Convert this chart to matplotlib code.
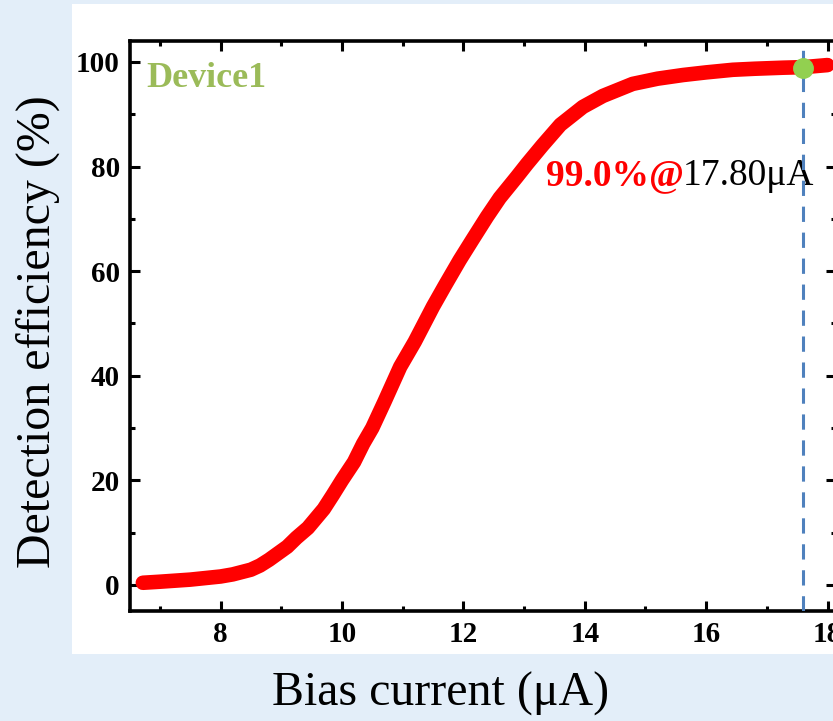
import matplotlib
matplotlib.use("Agg")
import matplotlib.pyplot as plt
from matplotlib.patches import Rectangle

plt.rcParams['font.family'] = ['Liberation Serif', 'DejaVu Serif']

# curva de eficiencia
corriente = [6.72, 7.0, 7.5, 8.0, 8.2, 8.5, 8.65, 8.8, 9.1, 9.25, 9.44, 9.7,
             9.85, 10.0, 10.2, 10.35, 10.5, 10.7, 10.96, 11.2, 11.5, 11.7,
             11.94, 12.15, 12.39, 12.6, 12.88, 13.05, 13.3, 13.6, 13.97, 14.3,
             14.79, 15.2, 15.62, 16.0, 16.44, 16.8, 17.27, 17.6, 18.0]
eficiencia = [0.4, 0.6, 1.0, 1.6, 2.0, 2.9, 3.7, 4.8, 7.3, 9.0, 10.9, 14.5,
              17.2, 20.0, 23.5, 27.0, 30.0, 35.0, 41.7, 46.5, 53.2, 57.3,
              62.1, 66.0, 70.4, 74.0, 78.0, 80.5, 84.0, 88.0, 91.4, 93.5,
              95.8, 96.8, 97.5, 98.0, 98.5, 98.7, 98.9, 99.0, 99.4]

punto_x = [17.6]
punto_y = [98.9]

xticks = [8, 10, 12, 14, 16, 18]
yticks = [0, 20, 40, 60, 80, 100]

fig = plt.figure(figsize=(8.33, 7.21), dpi=100, facecolor='#e3eef9')
# panel blanco detras del grafico
fig.patches.append(Rectangle((72 / 833, 1 - 654 / 721), 1 - 72 / 833, (654 - 4) / 721,
                             transform=fig.transFigure, facecolor='white',
                             edgecolor='none', zorder=-5))

ax = fig.add_axes([129.5 / 833, 1 - 611 / 721, (836 - 129.5) / 833, (611 - 40.5) / 721])
ax.set_zorder(2)
ax.set_facecolor('white')

ax.plot(corriente, eficiencia, color='red', lw=10.5, solid_capstyle='round',
        solid_joinstyle='round', zorder=3)
ax.axvline(punto_x[0], color='#4f81bd', lw=2.2, dashes=(5, 3.5), zorder=4)
ax.plot(punto_x, punto_y, 'o', color='#92d050', ms=14, zorder=5)

ax.set_xlim(6.5, 18.14)
ax.set_ylim(-5, 104.1)
ax.set_xticks(xticks)
ax.set_yticks(yticks)
ax.set_xticks([7, 9, 11, 13, 15, 17], minor=True)
ax.set_yticks([10, 30, 50, 70, 90], minor=True)

ax.tick_params(which='major', direction='in', length=7, width=2.2,
               top=True, right=True, labelsize=21, pad=7)
ax.tick_params(which='minor', direction='in', length=3.5, width=2.2,
               top=True, right=True)
for lab in ax.get_xticklabels() + ax.get_yticklabels():
    lab.set_fontweight('bold')
for s in ax.spines.values():
    s.set_linewidth(2.6)

ax.text(6.77, 95.2, 'Device1', color='#9bbb59', fontsize=26, fontweight='bold',
        va='baseline', ha='left')
ax.text(13.36, 76.5, '99.0%@', color='red', fontsize=27, fontweight='bold',
        va='baseline', ha='left')
ax.text(15.62, 76.5, '17.80\u03bcA', color='black', fontsize=27,
        va='baseline', ha='left')

fig.text(38 / 833, 1 - 332 / 721, 'Detection efficiency (%)', rotation=90,
         fontsize=34.5, ha='center', va='center')
fig.text(441 / 833, 1 - 694 / 721, 'Bias current (\u03bcA)', fontsize=34.5,
         ha='center', va='center')

fig.savefig('out.png', dpi=100, facecolor=fig.get_facecolor())
